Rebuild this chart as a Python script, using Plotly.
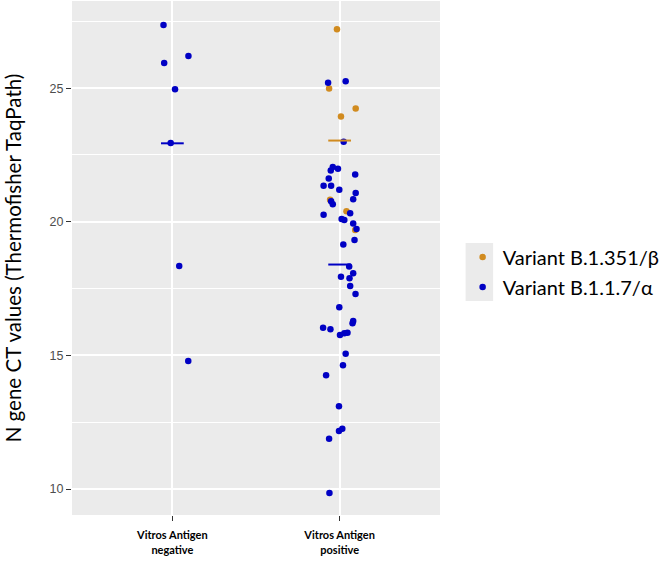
import numpy as np
import plotly.graph_objects as go

categories = ["Vitros Antigen<br>negative", "Vitros Antigen<br>positive"]
series_names = ["Variant B.1.351/β", "Variant B.1.1.7/α"]

# Variant B.1.351/beta (only in positive group)
beta_group = [1, 1, 1, 1, 1, 1, 1]
beta_ct = [27.2, 24.99, 24.24, 23.94, 20.82, 20.39, 19.69]
beta_jitter = [-0.016, -0.063, 0.096, 0.008, -0.057, 0.041, 0.093]

# Variant B.1.1.7/alpha
alpha_neg_ct = [27.36, 26.2, 25.94, 24.96, 22.95, 18.35, 14.79]
alpha_neg_jitter = [-0.053, 0.096, -0.049, 0.016, -0.01, 0.041, 0.095]

alpha_pos_ct = [25.2, 25.26, 22.99, 22.05, 21.98, 21.92, 21.77, 21.62, 21.35, 21.35,
                21.2, 21.08, 20.84, 20.77, 20.66, 20.26, 20.32, 20.1, 20.07, 19.94,
                19.73, 19.32, 19.15, 18.33, 18.07, 17.94, 17.89,
                17.6, 17.3, 16.8, 16.29, 16.2, 16.04, 15.98, 15.76, 15.83, 15.85,
                15.06, 14.63, 14.26, 13.1, 12.26, 12.17, 11.88, 9.85]
alpha_pos_jitter = [-0.069, 0.036, 0.024, -0.041, -0.010, -0.053, 0.093, -0.065, -0.096, -0.051,
                    -0.002, 0.096, 0.081, -0.051, -0.041, -0.096, 0.063, 0.012, 0.028, 0.081,
                    0.101, 0.089, 0.022, 0.057, 0.081, 0.008, 0.059,
                    0.063, 0.095, -0.002, 0.081, 0.077, -0.099, -0.055, 0.002, 0.028, 0.047,
                    0.036, 0.020, -0.081, -0.004, 0.016, -0.004, -0.063, -0.061]

y_ticks = [10, 15, 20, 25]

C_BETA = "#D18B1F"
C_ALPHA = "#0000C4"

L, R, T, B = 72, 220, 1, 53
PW = 666 - L - R
PH = 568 - T - B


def px_x(p):
    return (p - L) / PW


def px_y(p):
    return (568 - B - p) / PH


fig = go.Figure()

bx = [g + j for g, j in zip(beta_group, beta_jitter)]
fig.add_trace(go.Scatter(x=bx, y=beta_ct, mode="markers", name=series_names[0],
                         legendgroup="beta",
                         marker=dict(color=C_BETA, size=6.5)))

ax = [0 + j for j in alpha_neg_jitter] + [1 + j for j in alpha_pos_jitter]
ay = alpha_neg_ct + alpha_pos_ct
fig.add_trace(go.Scatter(x=ax, y=ay, mode="markers", name=series_names[1],
                         legendgroup="alpha",
                         marker=dict(color=C_ALPHA, size=6.5)))

# mean bars
hw = 0.068
means = [(0, np.mean(alpha_neg_ct), C_ALPHA, "alpha"), (1, np.mean(alpha_pos_ct), C_ALPHA, "alpha"),
         (1, np.mean(beta_ct), C_BETA, "beta")]
for g, m, c, lg in means:
    fig.add_trace(go.Scatter(x=[g - hw, g + hw], y=[m, m], mode="lines",
                             line=dict(color=c, width=2), showlegend=False,
                             legendgroup=lg, hoverinfo="skip"))

# legend key background
fig.add_shape(type="rect", xref="paper", yref="paper",
              x0=px_x(472), x1=px_x(500),
              y0=px_y(301), y1=px_y(243),
              fillcolor="#EBEBEB", line=dict(width=0), layer="below")

fig.update_layout(
    width=666, height=568,
    margin=dict(l=L, r=R, t=T, b=B),
    paper_bgcolor="white", plot_bgcolor="#EBEBEB",
    showlegend=True,
    legend=dict(x=px_x(469), y=px_y(272), xanchor="left", yanchor="middle",
                font=dict(family="Lato", size=20, color="black"),
                bgcolor="rgba(0,0,0,0)", itemsizing="trace",
                traceorder="grouped", tracegroupgap=1),
    xaxis=dict(range=[-0.6, 1.6], tickvals=[0, 1], ticktext=categories,
               showgrid=True, gridcolor="white", gridwidth=1.5, zeroline=False,
               ticks="outside", ticklen=5, tickcolor="#333333", tickwidth=1,
               ticklabelstandoff=5,
               tickfont=dict(family="Lato", size=11, color="black", weight="bold")),
    yaxis=dict(range=[9.03, 28.26], tickvals=y_ticks,
               showgrid=True, gridcolor="white", gridwidth=1.5, zeroline=False,
               ticks="outside", ticklen=5, tickcolor="#333333", tickwidth=1,
               tickfont=dict(family="Liberation Sans", size=12.5, color="#4D4D4D"),
               minor=dict(dtick=2.5, tick0=0, showgrid=True, gridcolor="white", gridwidth=0.8, ticks=""),
               title=dict(text="N gene CT values (Thermofisher TaqPath)",
                          font=dict(family="Lato", size=20.5, color="black"), standoff=22)),
)

fig.write_html("out.html", config={"displayModeBar": False},
               post_script="document.body.style.margin='0px';")
